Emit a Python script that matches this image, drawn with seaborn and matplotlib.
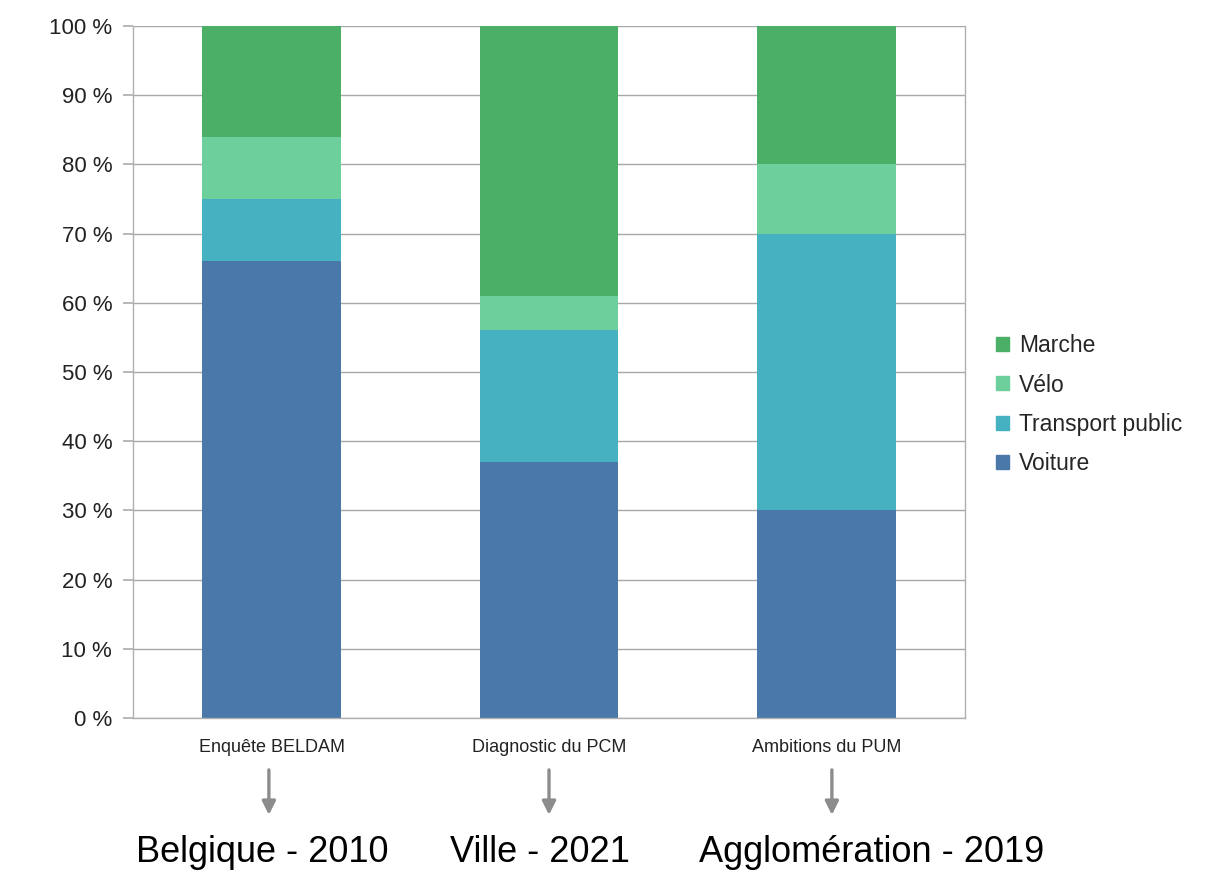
import matplotlib
matplotlib.use("Agg")
import matplotlib.pyplot as plt
import matplotlib.patches as mpatches
import seaborn as sns
import pandas as pd
import numpy as np

categories = ["Enquête BELDAM", "Diagnostic du PCM", "Ambitions du PUM"]
sub_labels = ["Belgique - 2010", "Ville - 2021", "Agglomération - 2019"]
modes = ["Voiture", "Transport public", "Vélo", "Marche"]
voiture = [66, 37, 30]
transport_public = [9, 19, 40]
velo = [9, 5, 10]
marche = [16, 39, 20]
colors = {"Voiture": "#4a78a9", "Transport public": "#45b1c1",
          "Vélo": "#6ccf9c", "Marche": "#4caf68"}

sns.set_theme(style="white")
plt.rcParams['font.family'] = ['Liberation Sans', 'DejaVu Sans']

df = pd.DataFrame({"cat": categories, "Voiture": voiture,
                   "Transport public": transport_public, "Vélo": velo, "Marche": marche})
cum = df[modes].cumsum(axis=1)

fig = plt.figure(figsize=(12.14, 8.72), dpi=100)
ax = fig.add_axes([133/1214, 1-718/872, (965-133)/1214, (718-26)/872])

for m in reversed(modes):
    sns.barplot(x=df["cat"], y=cum[m], color=colors[m], width=0.5,
                ax=ax, saturation=1, linewidth=0)

ax.set_ylim(0, 100)
ax.set_xlim(-0.5, 2.5)
ax.set_yticks(np.arange(0, 101, 10))
ax.set_yticklabels([f"{v} %" for v in range(0, 101, 10)], fontsize=16, color="#222222")
ax.set_xticks(range(3))
ax.set_xticklabels(categories, fontsize=13, color="#222222")
ax.set_xticks([-0.5, 0.5, 1.5, 2.5], minor=True)
ax.tick_params(axis="x", which="major", length=0, pad=15)
ax.tick_params(axis="x", which="minor", length=10, color="#b0b0b0", width=1)
ax.tick_params(axis="y", length=7, color="#b0b0b0", left=True, pad=8)
ax.set_xlabel("")
ax.set_ylabel("")
ax.yaxis.grid(True, color="#a8a8a8", linewidth=1)
ax.set_axisbelow(True)
for s in ["left", "right", "bottom"]:
    ax.spines[s].set_color("#b0b0b0")
    ax.spines[s].set_linewidth(1)
ax.spines["top"].set_visible(False)

trans = ax.get_xaxis_transform()
for i, off in zip(range(3), [-0.01, 0.0, 0.02]):
    ax.annotate("", xy=(i + off, -0.14), xytext=(i + off, -0.075),
                xycoords=trans, textcoords=trans,
                arrowprops=dict(arrowstyle="-|>", color="#8c8c8c", lw=2.4,
                                mutation_scale=20, shrinkA=0, shrinkB=0),
                annotation_clip=False)

for xpx, lab in zip([262, 540, 872], sub_labels):
    fig.text(xpx/1214, 1-852/872, lab, ha="center", va="center",
             fontsize=26, color="black")

handles = [mpatches.Patch(color=colors[m], label=m) for m in reversed(modes)]
fig.legend(handles=handles, loc="upper left", bbox_to_anchor=(996/1214, 1-334/872),
           frameon=False, fontsize=16.5, handlelength=0.55, handleheight=0.55,
           handletextpad=0.45, labelspacing=0.72, borderaxespad=0, borderpad=0)

fig.savefig("out.png", dpi=100, facecolor="white")
